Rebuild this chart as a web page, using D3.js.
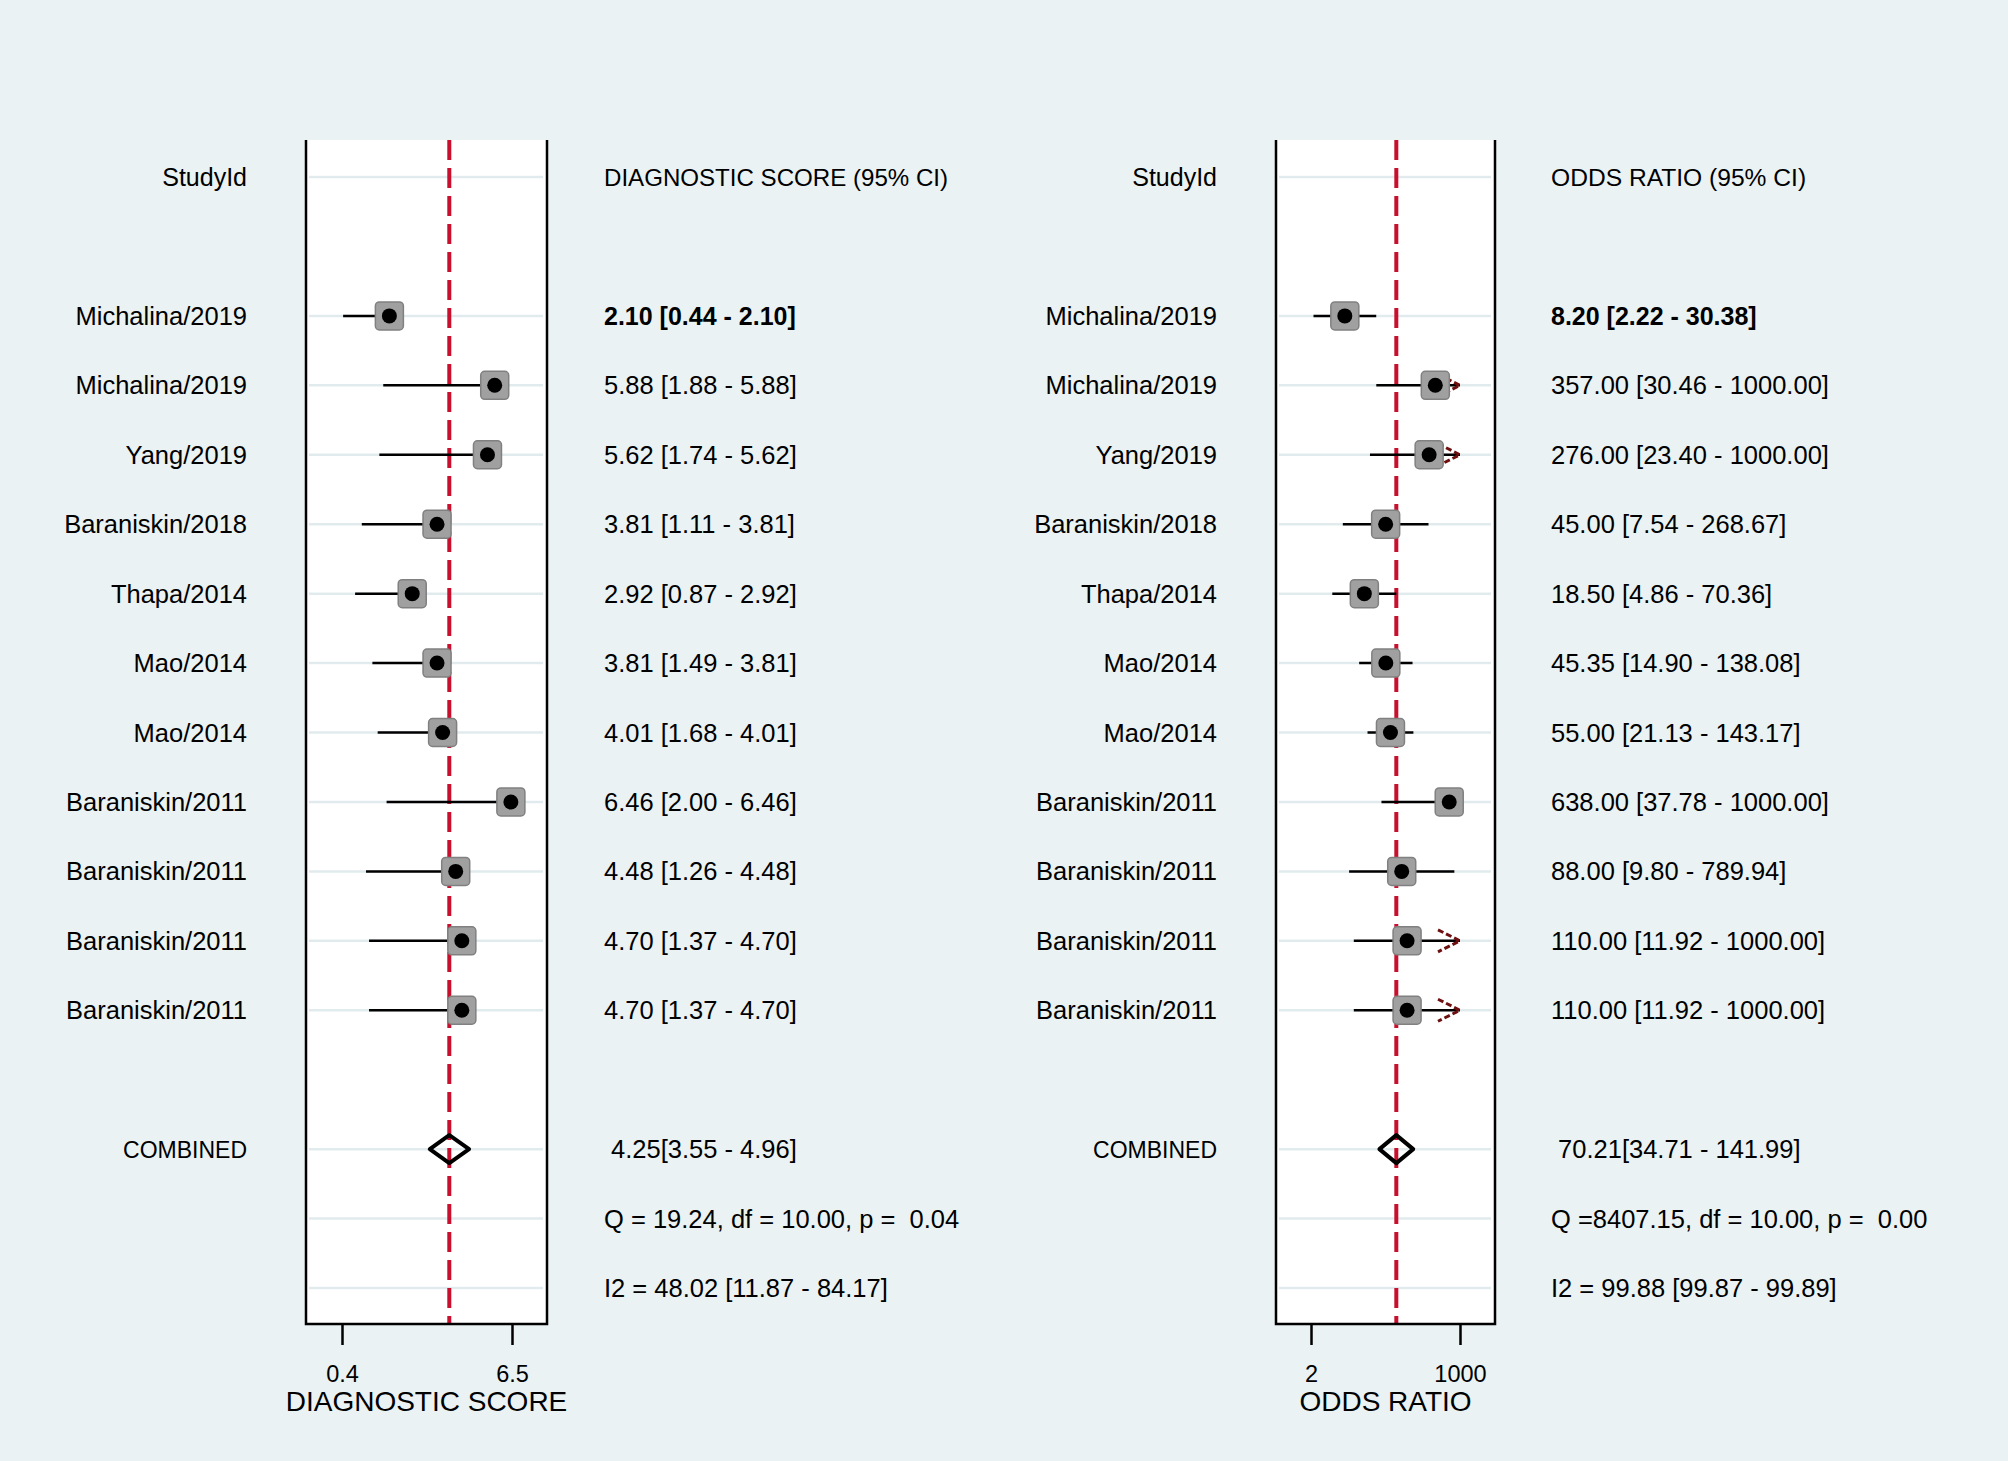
<!DOCTYPE html>
<html>
<head>
<meta charset="utf-8">
<script src="https://cdn.jsdelivr.net/npm/d3@7"></script>
<style>
  html, body { margin: 0; padding: 0; background: #eaf2f3; }
  svg { display: block; }
  text { font-family: "Liberation Sans", Arial, sans-serif; fill: #000; white-space: pre; }
</style>
</head>
<body>
<svg id="chart"></svg>
<script>
// study labels, top to bottom
const studies = [
  "Michalina/2019", "Michalina/2019", "Yang/2019", "Baraniskin/2018", "Thapa/2014",
  "Mao/2014", "Mao/2014", "Baraniskin/2011", "Baraniskin/2011", "Baraniskin/2011", "Baraniskin/2011"
];

// diagnostic score (estimate, lower, upper)
const dsEst  = [2.10, 5.88, 5.62, 3.81, 2.92, 3.81, 4.01, 6.46, 4.48, 4.70, 4.70];
const dsLow  = [0.44, 1.88, 1.74, 1.11, 0.87, 1.49, 1.68, 2.00, 1.26, 1.37, 1.37];
const dsHigh = [2.10, 5.88, 5.62, 3.81, 2.92, 3.81, 4.01, 6.46, 4.48, 4.70, 4.70];
const dsCombined = [4.25, 3.55, 4.96];
const dsStats = ["Q = 19.24, df = 10.00, p =  0.04", "I2 = 48.02 [11.87 - 84.17]"];
const dsTicks = [0.4, 6.5];

// odds ratio (estimate, lower, upper)
const orEst  = [8.20, 357.00, 276.00, 45.00, 18.50, 45.35, 55.00, 638.00, 88.00, 110.00, 110.00];
const orLow  = [2.22, 30.46, 23.40, 7.54, 4.86, 14.90, 21.13, 37.78, 9.80, 11.92, 11.92];
const orHigh = [30.38, 1000.00, 1000.00, 268.67, 70.36, 138.08, 143.17, 1000.00, 789.94, 1000.00, 1000.00];
const orCombined = [70.21, 34.71, 141.99];
const orStats = ["Q =8407.15, df = 10.00, p =  0.00", "I2 = 99.88 [99.87 - 99.89]"];
const orTicks = [2, 1000];

const W = 2008, H = 1461;
const svg = d3.select("#chart").attr("width", W).attr("height", H);
svg.append("rect").attr("width", W).attr("height", H).attr("fill", "#eaf2f3");

const boxTop = 140, boxBottom = 1324;
// row 0 = header, rows 2..12 = studies, 14 = combined, 15-16 = heterogeneity
const yRow = d3.scaleLinear().domain([0, 16]).range([177, 1288]);
const gridRows = [0, 2, 3, 4, 5, 6, 7, 8, 9, 10, 11, 12, 14, 15, 16];
const f2 = d3.format(".2f");

function drawPanel(cfg) {
  const g = svg.append("g");
  const x = cfg.scale;

  g.append("rect")
    .attr("x", cfg.left).attr("y", boxTop)
    .attr("width", cfg.right - cfg.left).attr("height", boxBottom - boxTop)
    .attr("fill", "#fff");

  g.selectAll("line.grid")
    .data(gridRows)
    .join("line")
    .attr("class", "grid")
    .attr("x1", cfg.left + 3).attr("x2", cfg.right - 4)
    .attr("y1", d => yRow(d)).attr("y2", d => yRow(d))
    .attr("stroke", "#e1ebed").attr("stroke-width", 2.5);

  // reference line at the pooled estimate
  g.append("line")
    .attr("x1", x(cfg.combined[0])).attr("x2", x(cfg.combined[0]))
    .attr("y1", boxTop).attr("y2", boxBottom)
    .attr("stroke", "#c8102e").attr("stroke-width", 4)
    .attr("stroke-dasharray", "20 8");

  const rows = studies.map((s, i) => ({
    name: s, est: cfg.est[i], low: cfg.low[i], high: cfg.high[i], row: i + 2
  }));

  g.selectAll("line.ci")
    .data(rows)
    .join("line")
    .attr("class", "ci")
    .attr("x1", d => x(d.low)).attr("x2", d => x(d.high))
    .attr("y1", d => yRow(d.row)).attr("y2", d => yRow(d.row))
    .attr("stroke", "#000").attr("stroke-width", 2.5);

  // truncated intervals get an arrow head
  g.selectAll("path.arrow")
    .data(rows.filter(d => cfg.cap && d.high >= cfg.cap))
    .join("path")
    .attr("class", "arrow")
    .attr("d", d => {
      const tx = x(d.high), ty = yRow(d.row);
      return `M${tx - 22},${ty - 11}L${tx},${ty}L${tx - 22},${ty + 11}`;
    })
    .attr("fill", "none").attr("stroke", "#6e0f0f").attr("stroke-width", 3)
    .attr("stroke-dasharray", "6 3");

  const sq = 28;
  g.selectAll("rect.box")
    .data(rows)
    .join("rect")
    .attr("class", "box")
    .attr("x", d => x(d.est) - sq / 2).attr("y", d => yRow(d.row) - sq / 2)
    .attr("width", sq).attr("height", sq).attr("rx", 4)
    .attr("fill", "#a0a0a0").attr("stroke", "#808080").attr("stroke-width", 1.5);

  g.selectAll("circle.pt")
    .data(rows)
    .join("circle")
    .attr("class", "pt")
    .attr("cx", d => x(d.est)).attr("cy", d => yRow(d.row))
    .attr("r", 7.5).attr("fill", "#000");

  // pooled diamond
  const cy = yRow(14), c = cfg.combined;
  g.append("path")
    .attr("d", `M${x(c[1])},${cy}L${x(c[0])},${cy - 14}L${x(c[2])},${cy}L${x(c[0])},${cy + 14}Z`)
    .attr("fill", "none").attr("stroke", "#000").attr("stroke-width", 4)
    .attr("stroke-linejoin", "round");

  // frame: two sides and the x axis line
  g.append("path")
    .attr("d", `M${cfg.left},${boxTop}V${boxBottom}H${cfg.right}V${boxTop}`)
    .attr("fill", "none").attr("stroke", "#000").attr("stroke-width", 2.5);

  const axis = g.append("g")
    .attr("transform", `translate(0,${boxBottom})`)
    .call(d3.axisBottom(x).tickValues(cfg.ticks).tickFormat(d => String(d))
      .tickSize(21).tickSizeOuter(0));
  axis.select(".domain").remove();
  axis.selectAll(".tick line").attr("stroke", "#000").attr("stroke-width", 2.5);
  axis.selectAll(".tick text")
    .attr("y", 58).attr("dy", 0)
    .style("font-size", "23.5px")
    .style("font-family", "'Liberation Sans', Arial, sans-serif")
    .attr("fill", "#000");

  g.append("text")
    .attr("x", (cfg.left + cfg.right) / 2).attr("y", 1411)
    .attr("text-anchor", "middle")
    .style("font-size", "28px")
    .text(cfg.title);

  // left column: study names
  const labels = [{ t: "StudyId", row: 0, size: 25 }]
    .concat(rows.map(d => ({ t: d.name, row: d.row, size: 25.5 })))
    .concat([{ t: "COMBINED", row: 14, size: 23 }]);
  g.selectAll("text.lab")
    .data(labels)
    .join("text")
    .attr("class", "lab")
    .attr("x", cfg.labelX).attr("y", d => yRow(d.row) + 9)
    .attr("text-anchor", "end")
    .style("font-size", d => d.size + "px")
    .text(d => d.t);

  // right column: estimates
  const stats = [{ t: cfg.header, row: 0, size: cfg.headerSize }]
    .concat(rows.map((d, i) => ({
      t: `${f2(d.est)} [${f2(d.low)} - ${f2(d.high)}]`, row: d.row, bold: i === 0, size: i === 0 ? 25 : 25.5
    })))
    .concat([{ t: ` ${f2(c[0])}[${f2(c[1])} - ${f2(c[2])}]`, row: 14, size: 25.5 }])
    .concat(cfg.stats.map((s, i) => ({ t: s, row: 15 + i, size: 25.5 })));
  g.selectAll("text.val")
    .data(stats)
    .join("text")
    .attr("class", "val")
    .attr("x", cfg.textX).attr("y", d => yRow(d.row) + 9)
    .style("font-size", d => d.size + "px")
    .style("font-weight", d => d.bold ? "bold" : "normal")
    .text(d => d.t);
}

drawPanel({
  left: 306, right: 547, labelX: 247, textX: 604,
  scale: d3.scaleLinear().domain([0.4, 6.5]).range([342, 512]),
  est: dsEst, low: dsLow, high: dsHigh, combined: dsCombined,
  stats: dsStats, ticks: dsTicks, headerSize: 24.1,
  header: "DIAGNOSTIC SCORE (95% CI)", title: "DIAGNOSTIC SCORE"
});

drawPanel({
  left: 1276, right: 1495, labelX: 1217, textX: 1551,
  scale: d3.scaleLog().domain([2, 1000]).range([1311, 1460]),
  est: orEst, low: orLow, high: orHigh, combined: orCombined, cap: 1000,
  stats: orStats, ticks: orTicks, headerSize: 24.6,
  header: "ODDS RATIO (95% CI)", title: "ODDS RATIO"
});
</script>
</body>
</html>
